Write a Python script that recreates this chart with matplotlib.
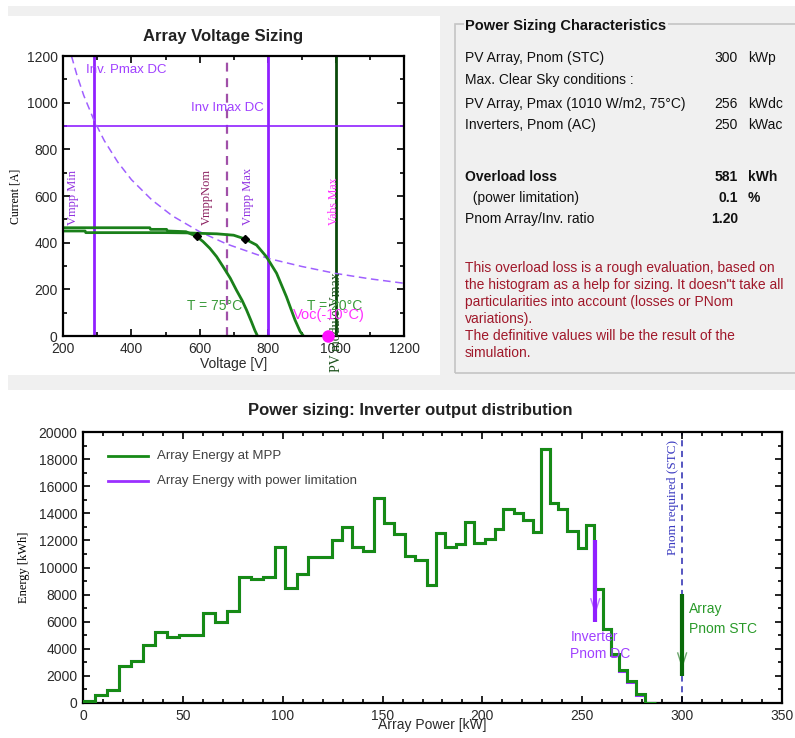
import matplotlib
matplotlib.use('Agg')
import matplotlib.pyplot as plt
from matplotlib.patches import Rectangle
from matplotlib.ticker import MultipleLocator

plt.rcParams['font.family'] = ['Liberation Sans', 'DejaVu Sans']
SERIF = ['Liberation Serif', 'DejaVu Serif']

W, H = 795, 738

# ---- array voltage sizing ----
v_mpp_min = 290
v_mpp_nom = 680
v_mpp_max = 800
v_abs_max = 1000
i_max_dc = 900
voc_cold = 978

# constant power curve of the inverter (Pmax DC)
pmax_v = [224, 240, 260, 290, 320, 360, 400, 460, 520, 600, 680, 800, 900, 1000, 1100, 1200]
pmax_i = [1200, 1118, 1031, 925, 838, 745, 670, 583, 515, 447, 394, 333, 298, 268, 245, 226]

# I/V curves of the array
iv75_v = [200, 454, 456, 503, 506, 560, 591, 610, 630, 650, 669, 690, 708, 725, 738, 752, 762, 770]
iv75_i = [464, 464, 457, 457, 450, 447, 427, 405, 376, 340, 297, 248, 197, 152, 111, 62, 25, 0]
iv20_v = [200, 264, 266, 503, 560, 600, 650, 700, 733, 767, 796, 826, 855, 880, 895, 905]
iv20_i = [450, 450, 443, 443, 442, 440, 438, 432, 416, 390, 340, 269, 168, 69, 20, 0]
mpp_v = [591, 733]
mpp_i = [427, 416]

# ---- inverter output distribution ----
edges = [0, 6, 12, 18, 24, 30, 36, 42, 48, 54, 60, 66, 72, 78, 84, 90, 96, 101,
         107, 112.5, 118.5, 124.5, 129.8, 134.8, 140.3, 145.6, 150.6, 155.6, 161.2,
         166.2, 172, 177, 181.5, 187, 191.3, 195.8, 201.2, 206.2, 210.3, 215.7,
         220.3, 225.3, 229.5, 233.7, 237.8, 242.3, 247.8, 251.7, 255.9, 260.4,
         264.6, 268.2, 272.4, 276.7, 281.2, 287]
energy_mpp = [160, 590, 970, 2760, 3120, 4280, 5250, 4860, 5030, 5050, 6620, 6000,
              6790, 9320, 9130, 9320, 11540, 8510, 9500, 10750, 10750, 12030, 13000,
              11530, 11240, 15140, 13300, 12440, 10850, 10550, 8710, 12520, 11530,
              11730, 13370, 11830, 12100, 12810, 14310, 14040, 13500, 12640, 18730,
              14730, 14290, 12690, 11410, 13130, 8400, 5470, 3610, 2400, 1640, 660, 0]
energy_lim = [160, 590, 970, 2760, 3120, 4280, 5250, 4860, 5030, 5050, 6620, 6000,
              6790, 9320, 9130, 9320, 11540, 8510, 9500, 10750, 10750, 12030, 13000,
              11530, 11240, 15140, 13300, 12440, 10850, 10550, 8710, 12520, 11530,
              11730, 13370, 11830, 12100, 12810, 14310, 14040, 13500, 12640, 18730,
              14730, 14290, 12690, 11410, 13130, 8400, 5470, 3560, 2330, 1580, 600, 0]
inv_pnom_dc = 256.5
inv_arrow = (12030, 5960)
array_pnom = 300
array_arrow = (8050, 1960)

# ---- summary panel ----
rows = [
    ("PV Array, Pnom (STC)", "300", "kWp", False, 58),
    ("Max. Clear Sky conditions :", "", "", False, 80),
    ("PV Array, Pmax (1010 W/m2, 75\u00b0C)", "256", "kWdc", False, 104),
    ("Inverters, Pnom (AC)", "250", "kWac", False, 125),
    ("Overload loss", "581", "kWh", True, 177),
    ("  (power limitation)", "0.1", "%", False, 198),
    ("Pnom Array/Inv. ratio", "1.20", "", False, 219),
]
note = ["This overload loss is a rough evaluation, based on",
        "the histogram as a help for sizing. It doesn\"t take all",
        "particularities into account (losses or PNom",
        "variations).",
        "The definitive values will be the result of the",
        "simulation."]


def fx(x):
    return x / W


def fy(y):
    return 1 - y / H


fig = plt.figure(figsize=(W / 100, H / 100), dpi=100, facecolor='#f0f0f0')

# white panels behind the two charts
for x0, y0, x1, y1 in [(0, 0, 795, 6), (0, 0, 8, 738), (8, 16, 440, 375), (8, 390, 795, 738)]:
    fig.patches.append(Rectangle((fx(x0), fy(y1)), fx(x1) - fx(x0), fy(y0) - fy(y1),
                                 transform=fig.transFigure, facecolor='white',
                                 edgecolor='none', zorder=-5))


def style_axes(ax, xmaj, xmin, ymaj, ymin):
    ax.set_zorder(2)
    for s in ax.spines.values():
        s.set_linewidth(1.6)
        s.set_color('black')
    ax.xaxis.set_major_locator(MultipleLocator(xmaj))
    ax.xaxis.set_minor_locator(MultipleLocator(xmin))
    ax.yaxis.set_major_locator(MultipleLocator(ymaj))
    ax.yaxis.set_minor_locator(MultipleLocator(ymin))
    ax.tick_params(which='both', direction='in', top=True, right=True,
                   labelsize=10, labelcolor='#2a2a2a', width=1.2, pad=4)
    ax.tick_params(which='major', length=5)
    ax.tick_params(which='minor', length=3)


# ---- top left: array voltage sizing ----
ax1 = fig.add_axes([fx(63.3), fy(336), fx(404) - fx(63.3), fy(56) - fy(336)])
ax1.set_xlim(200, 1200)
ax1.set_ylim(0, 1200)
style_axes(ax1, 200, 100, 200, 100)

purple = '#9020ff'
ax1.axvline(v_mpp_min, color=purple, lw=2)
ax1.axvline(v_mpp_max, color=purple, lw=2)
ax1.axvline(v_mpp_nom, color='#a050a8', lw=1.6, ls=(0, (4, 3)))
ax1.axvline(v_abs_max, color='#0a4a0a', lw=2)
ax1.axhline(i_max_dc, color=purple, lw=1.2)
ax1.plot(pmax_v, pmax_i, color='#a060ff', lw=1.1, ls=(0, (5, 3)))
ax1.plot(iv75_v, iv75_i, color='#1a801a', lw=2)
ax1.plot(iv20_v, iv20_i, color='#1a801a', lw=2)
ax1.plot(mpp_v, mpp_i, 'D', color='black', ms=4.5)
ax1.plot([voc_cold], [0], 'o', color='#ff10ff', ms=8, clip_on=False, zorder=5)

ax1.text(267, 1140, "Inv. Pmax DC", color='#a040ff', fontsize=9.5, va='center')
ax1.text(575, 977, "Inv Imax DC", color='#a040ff', fontsize=9.5, va='center')
ax1.text(228, 476, "Vmpp Min", rotation=90, color='#9030e0', family=SERIF,
         fontsize=9, ha='center', va='bottom')
ax1.text(621, 476, "VmppNom", rotation=90, color='#8b2060', family=SERIF,
         fontsize=9, ha='center', va='bottom')
ax1.text(741, 476, "Vmpp Max", rotation=90, color='#9030e0', family=SERIF,
         fontsize=9, ha='center', va='bottom')
ax1.text(994, 476, "Vabs Max", rotation=90, color='#ff30ff', family=SERIF,
         fontsize=8.5, ha='center', va='bottom')
ax1.text(1003, -154, "PV module Vmax", rotation=90, color='#1a501a', family=SERIF,
         fontsize=10, ha='center', va='bottom', clip_on=False)
ax1.text(563, 129, "T = 75\u00b0C", color='#3a9a3a', fontsize=10, va='center')
ax1.text(915, 129, "T = 20\u00b0C", color='#3a9a3a', fontsize=10, va='center')
ax1.text(874, 90, "Voc(-10\u00b0C)", color='#ff30ff', fontsize=10.5, va='center')

ax1.set_xlabel("Voltage [V]", fontsize=10, color='#2a2a2a', labelpad=1)
ax1.set_ylabel("Current [A]", fontsize=8.5, family=SERIF, labelpad=4)
fig.text(fx(223), fy(37), "Array Voltage Sizing", fontsize=12, weight='bold',
         ha='center', va='center', color='#222222')

# ---- top right: summary panel ----
fig.patches.append(Rectangle((fx(455), fy(373)), fx(800) - fx(455), fy(24) - fy(373),
                             transform=fig.transFigure, facecolor='none',
                             edgecolor='#c4c4c4', lw=1.2, zorder=1))
fig.text(fx(465), fy(26), "Power Sizing Characteristics", fontsize=10.5, weight='bold',
         va='center', color='#111111',
         bbox=dict(facecolor='#f0f0f0', edgecolor='none', pad=1))
for label, val, unit, bold, y in rows:
    w = 'bold' if bold else 'normal'
    vw = 'bold' if (bold or unit in ('%', '')) else 'normal'
    fig.text(fx(465), fy(y), label, fontsize=10, weight=w, va='center', color='#111111')
    if val:
        fig.text(fx(738), fy(y), val, fontsize=10, weight=vw, va='center',
                 ha='right', color='#111111')
    if unit:
        fig.text(fx(748), fy(y), unit, fontsize=10, weight=vw, va='center', color='#111111')
for k, line in enumerate(note):
    fig.text(fx(465), fy(268 + 17 * k), line, fontsize=10, va='center', color='#a0182a')

# ---- bottom: inverter output distribution ----
ax2 = fig.add_axes([fx(83), fy(703), fx(782) - fx(83), fy(432) - fy(703)])
ax2.set_xlim(0, 350)
ax2.set_ylim(0, 20000)
style_axes(ax2, 50, 10, 2000, 1000)

ax2.stairs(energy_lim, edges, color='#9b30ff', lw=2.2, zorder=2)
ax2.stairs(energy_mpp, edges, color='#168a16', lw=2.2, zorder=3)

ax2.axvline(array_pnom, color='#2828b0', lw=1.1, ls=(0, (4, 3)), zorder=1)
ax2.text(array_pnom - 4.6, 15200, "Pnom required (STC)", rotation=90, color='#3a3ac0',
         family=SERIF, fontsize=9.5, ha='center', va='center')

# arrows marking the inverter and array nominal powers
for xa, (ytop, ybot), col in [(inv_pnom_dc, inv_arrow, '#9020ff'),
                              (array_pnom, array_arrow, '#0a6a0a')]:
    ax2.plot([xa, xa], [ytop, ybot], color=col, lw=3, solid_capstyle='butt', zorder=4)
    head = ybot + 0.12 * (ytop - ybot)
    ax2.plot([xa - 2.2, xa, xa + 2.2], [head + 1000, head, head + 1000],
             color=col, lw=1, alpha=0.6, zorder=4)

ax2.text(244, 4880, "Inverter", color='#a040ff', fontsize=10, va='center')
ax2.text(244, 3620, "Pnom DC", color='#a040ff', fontsize=10, va='center')
ax2.text(303.3, 6940, "Array", color='#2a9a2a', fontsize=10, va='center')
ax2.text(303.3, 5470, "Pnom STC", color='#2a9a2a', fontsize=10, va='center')

# legend drawn by hand, without a frame
for yl, col, txt in [(0.911, '#168a16', "Array Energy at MPP"),
                     (0.819, '#9b30ff', "Array Energy with power limitation")]:
    ax2.plot([0.036, 0.093], [yl, yl], color=col, lw=2, transform=ax2.transAxes)
    ax2.text(0.106, yl, txt, color='#404040', fontsize=9.5, va='center',
             transform=ax2.transAxes)

ax2.set_xlabel("Array Power [kW]", fontsize=10, color='#2a2a2a', labelpad=-3)
ax2.set_ylabel("Energy [kWh]", fontsize=9, family=SERIF, labelpad=6)
fig.text(fx(410), fy(411), "Power sizing: Inverter output distribution", fontsize=12,
         weight='bold', ha='center', va='center', color='#222222')

fig.savefig('out.png', dpi=100, facecolor=fig.get_facecolor())
